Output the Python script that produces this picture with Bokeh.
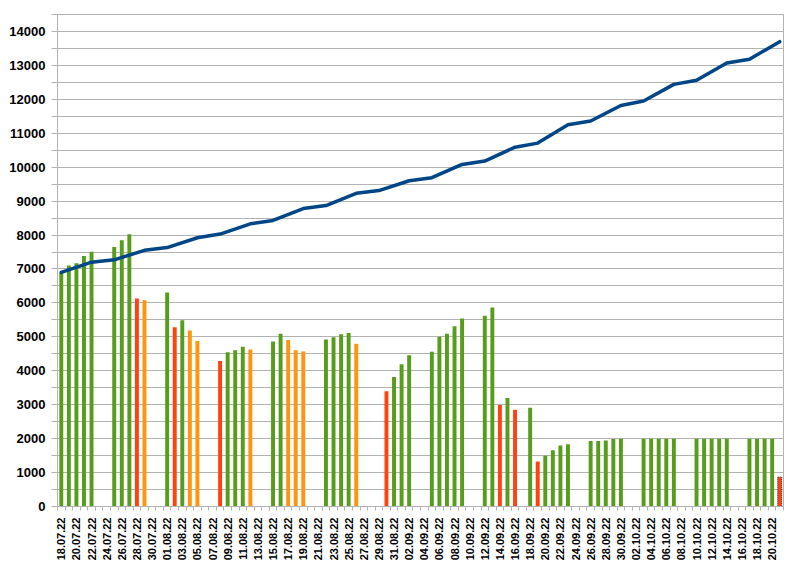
import pandas as pd
from math import pi
from bokeh.plotting import figure
from bokeh.models import FixedTicker, ColumnDataSource, Range1d, CustomJSTickFormatter
from bokeh.embed import file_html
from bokeh.resources import INLINE

# ---- categories (days on the x axis) ----
all_days = pd.date_range("2022-07-18", "2022-10-21", freq="D")
day_labels = [d.strftime("%d.%m.%y") for d in all_days]
day_index = {lab: i for i, lab in enumerate(day_labels)}

# ---- bar series ----
bar_dates = [
    "18.07.22", "19.07.22", "20.07.22", "21.07.22", "22.07.22",
    "25.07.22", "26.07.22", "27.07.22", "28.07.22", "29.07.22",
    "01.08.22", "02.08.22", "03.08.22", "04.08.22", "05.08.22",
    "08.08.22", "09.08.22", "10.08.22", "11.08.22", "12.08.22",
    "15.08.22", "16.08.22", "17.08.22", "18.08.22", "19.08.22",
    "22.08.22", "23.08.22", "24.08.22", "25.08.22", "26.08.22",
    "30.08.22", "31.08.22", "01.09.22", "02.09.22",
    "05.09.22", "06.09.22", "07.09.22", "08.09.22", "09.09.22",
    "12.09.22", "13.09.22", "14.09.22", "15.09.22", "16.09.22",
    "18.09.22", "19.09.22", "20.09.22", "21.09.22", "22.09.22", "23.09.22",
    "26.09.22", "27.09.22", "28.09.22", "29.09.22", "30.09.22",
    "03.10.22", "04.10.22", "05.10.22", "06.10.22", "07.10.22",
    "10.10.22", "11.10.22", "12.10.22", "13.10.22", "14.10.22",
    "17.10.22", "18.10.22", "19.10.22", "20.10.22", "21.10.22",
]
bar_values = [
    6890, 7100, 7170, 7380, 7510,
    7650, 7850, 8020, 6130, 6080,
    6310, 5280, 5490, 5190, 4880,
    4290, 4545, 4605, 4705, 4625,
    4865, 5090, 4910, 4605, 4570,
    4920, 4990, 5080, 5110, 4800,
    3395, 3815, 4190, 4460,
    4560, 5000, 5090, 5315, 5540,
    5625, 5865, 2990, 3195, 2855,
    2910, 1325, 1495, 1655, 1795, 1835,
    1930, 1930, 1945, 1990, 1995,
    2000, 2000, 2000, 2000, 2000,
    2000, 2000, 2000, 2000, 2000,
    2000, 2000, 2000, 2000, 865,
]
bar_status = [
    "g", "g", "g", "g", "g",
    "g", "g", "g", "r", "o",
    "g", "r", "g", "o", "o",
    "r", "g", "g", "g", "o",
    "g", "g", "o", "o", "o",
    "g", "g", "g", "g", "o",
    "r", "g", "g", "g",
    "g", "g", "g", "g", "g",
    "g", "g", "r", "g", "r",
    "g", "r", "g", "g", "g", "g",
    "g", "g", "g", "g", "g",
    "g", "g", "g", "g", "g",
    "g", "g", "g", "g", "g",
    "g", "g", "g", "g", "p",
]

# ---- line series ----
line_dates = [
    "18.07.22", "22.07.22", "25.07.22", "29.07.22", "01.08.22", "05.08.22",
    "08.08.22", "12.08.22", "15.08.22", "19.08.22", "22.08.22", "26.08.22",
    "29.08.22", "02.09.22", "05.09.22", "09.09.22", "12.09.22", "16.09.22",
    "19.09.22", "23.09.22", "26.09.22", "30.09.22", "03.10.22", "07.10.22",
    "10.10.22", "14.10.22", "17.10.22", "21.10.22",
]
line_values = [
    6900, 7200, 7270, 7550, 7630, 7920,
    8030, 8330, 8430, 8780, 8870, 9230,
    9310, 9600, 9690, 10080, 10180, 10590,
    10710, 11250, 11360, 11820, 11950, 12440,
    12560, 13070, 13180, 13700,
]

y_ticks = list(range(0, 14001, 1000))
y_minor = list(range(500, 14501, 1000))

status_color = {"g": "#579d1c", "r": "#ff420e", "o": "#ff950e", "p": "#ff420e"}

GRID = "#b3b3b3"
FONT = "Liberation Sans"

xs = [day_index[d] for d in bar_dates]
regular = dict(x=[], top=[], color=[])
pending = dict(x=[], top=[], color=[])
for x, v, s in zip(xs, bar_values, bar_status):
    tgt = pending if s == "p" else regular
    tgt["x"].append(x)
    tgt["top"].append(v)
    tgt["color"].append(status_color[s])

n = len(day_labels)
p = figure(width=790, height=563, output_backend="svg", toolbar_location=None,
           x_range=Range1d(-0.5, n - 0.5), y_range=Range1d(0, 14500),
           min_border_left=57, min_border_right=7, min_border_top=14, min_border_bottom=57)
p.background_fill_color = "white"
p.border_fill_color = "white"
p.outline_line_color = GRID
p.outline_line_width = 1

p.vbar(x="x", top="top", width=0.52, fill_color="color", line_color=None,
       source=ColumnDataSource(regular))
p.vbar(x="x", top="top", width=0.52, fill_color="color", line_color="#222222",
       line_dash="1 1", line_width=1, source=ColumnDataSource(pending))

p.line(x=[day_index[d] for d in line_dates], y=line_values, line_color="#004586",
       line_width=3.5, line_join="round", line_cap="round")

# y axis
p.yaxis.ticker = FixedTicker(ticks=y_ticks, minor_ticks=y_minor)
p.yaxis.axis_line_color = GRID
p.yaxis.major_tick_line_color = GRID
p.yaxis.minor_tick_line_color = GRID
p.yaxis.major_tick_out = 6
p.yaxis.major_tick_in = 0
p.yaxis.minor_tick_out = 6
p.yaxis.minor_tick_in = 0
p.yaxis.major_label_standoff = 6
p.yaxis.major_label_text_font = FONT
p.yaxis.major_label_text_font_style = "bold"
p.yaxis.major_label_text_font_size = "13px"
p.yaxis.major_label_text_color = "black"

p.ygrid.grid_line_color = GRID
p.ygrid.minor_grid_line_color = GRID
p.xgrid.grid_line_color = None

# x axis
major_x = list(range(0, n, 2))
minor_x = [i - 0.5 for i in range(n + 1)]
p.xaxis.ticker = FixedTicker(ticks=major_x, minor_ticks=minor_x)
p.xaxis.formatter = CustomJSTickFormatter(args=dict(labels=day_labels),
                                          code="const i = Math.round(tick); return labels[i] ?? '';")
p.xaxis.axis_line_color = GRID
p.xaxis.major_tick_out = 0
p.xaxis.major_tick_in = 0
p.xaxis.minor_tick_line_color = GRID
p.xaxis.minor_tick_out = 4
p.xaxis.minor_tick_in = 0
p.xaxis.major_label_orientation = pi / 2
p.xaxis.major_label_standoff = 7
p.xaxis.major_label_text_font = FONT
p.xaxis.major_label_text_font_style = "bold"
p.xaxis.major_label_text_font_size = "11px"
p.xaxis.major_label_text_color = "black"

open("out.html", "w").write(file_html(p, INLINE))
